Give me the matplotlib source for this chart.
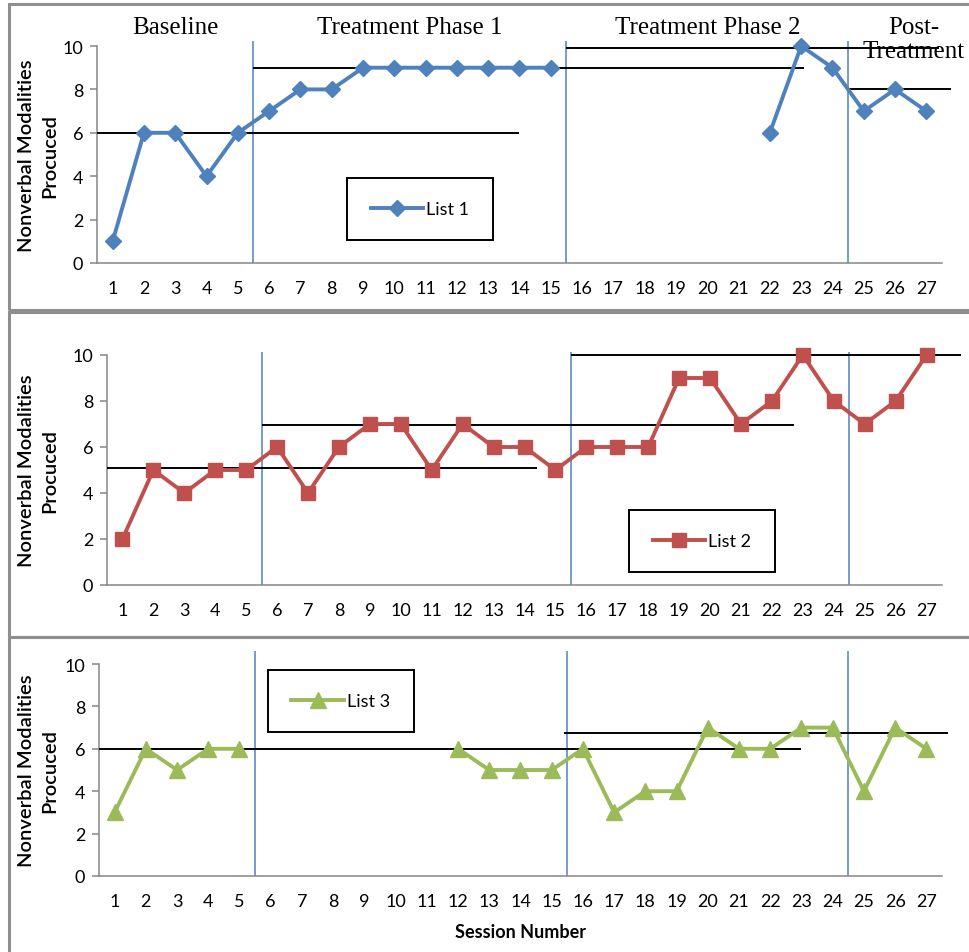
import numpy as np
import matplotlib
matplotlib.use("Agg")
import matplotlib.pyplot as plt
import matplotlib.transforms as mtransforms
from matplotlib.patches import Rectangle

# ---------- data ----------
sessions = np.arange(1, 28)
nan = np.nan

list1 = [1, 6, 6, 4, 6, 7, 8, 8, 9, 9, 9, 9, 9, 9, 9,
         nan, nan, nan, nan, nan, nan, 6, 10, 9, 7, 8, 7]
list2 = [2, 5, 4, 5, 5, 6, 4, 6, 7, 7, 5, 7, 6, 6, 5,
         6, 6, 6, 9, 9, 7, 8, 10, 8, 7, 8, 10]
list3 = [3, 6, 5, 6, 6, nan, nan, nan, nan, nan, nan, 6, 5, 5, 5,
         6, 3, 4, 4, 7, 6, 6, 7, 7, 4, 7, 6]

# phase boundaries (between sessions)
phase_bounds = [5.5, 15.5, 24.5]
phase_names = ["Baseline", "Treatment Phase 1", "Treatment Phase 2", "Post-\nTreatment"]
phase_label_x = [3, 10.5, 20, 26.6]

# mean lines: (start, end, level)
means1 = [(0.5, 14.0, 6), (5.5, 23.1, 9), (15.5, 27.4, 9.9), (24.5, 27.8, 8)]
means2 = [(0.5, 14.4, 5.1), (5.5, 22.7, 6.95), (15.5, 28.1, 10)]
means3 = [(0.5, 23.0, 6), (15.4, 27.7, 6.75)]

# ---------- style ----------
W, H = 970, 953
BLUE = "#4F81BD"
RED = "#C0504D"
GREEN = "#9BBB59"
AXGRAY = "#868686"
BORDER = "#8E8E8E"
TICKFONT = "Lato"

fig = plt.figure(figsize=(W / 100, H / 100), dpi=100)


def px_axes(left, right, top, bottom):
    return fig.add_axes([left / W, 1 - bottom / H, (right - left) / W, (bottom - top) / H])


# panel borders
for (y0, y1) in [(5, 311), (313, 638), (638, 960)]:
    fig.add_artist(Rectangle((9 / W, 1 - y1 / H), 1.2, (y1 - y0) / H,
                             transform=fig.transFigure, fill=False,
                             edgecolor=BORDER, lw=2.2, clip_on=False))

panels = [
    dict(box=(97, 942, 47, 264), data=list1, color=BLUE, marker="D", ms=8.5,
         label="List 1", means=means1, vtop=10.23, leg=(420, 210)),
    dict(box=(107, 942, 356, 586), data=list2, color=RED, marker="s", ms=10.5,
         label="List 2", means=means2, vtop=10.13, leg=(702, 542)),
    dict(box=(99, 942, 665, 877), data=list3, color=GREEN, marker="^", ms=12,
         label="List 3", means=means3, vtop=10.6, leg=(341, 702)),
]

axes = []
for p in panels:
    ax = px_axes(*p["box"])
    axes.append(ax)
    ax.set_xlim(0.5, 27.5)
    ax.set_ylim(0, 10)

    ax.vlines(phase_bounds, 0, p["vtop"], color=BLUE, lw=1.1, clip_on=False, zorder=2)
    for (x0, x1, lvl) in p["means"]:
        ax.hlines(lvl, x0, x1, color="black", lw=1.4, clip_on=False, zorder=3)

    ax.plot(sessions, p["data"], color=p["color"], lw=2.8, marker=p["marker"],
            ms=p["ms"], mec=p["color"], mfc=p["color"], label=p["label"],
            clip_on=False, zorder=4)

    for s in ["top", "right"]:
        ax.spines[s].set_visible(False)
    for s in ["left", "bottom"]:
        ax.spines[s].set_color(AXGRAY)
        ax.spines[s].set_linewidth(1.1)

    ax.set_xticks(sessions)
    ax.set_yticks([0, 2, 4, 6, 8, 10])
    ax.tick_params(axis="x", length=0, pad=12, labelsize=13)
    ax.tick_params(axis="y", length=5, width=1.1, color=AXGRAY, pad=5, labelsize=13)
    for lab in ax.get_xticklabels() + ax.get_yticklabels():
        lab.set_fontfamily(TICKFONT)

    ax.set_ylabel("Nonverbal Modalities\nProcuced", fontsize=14.5, family=TICKFONT,
                  linespacing=1.4, fontweight="semibold")
    ax.yaxis.label.set_va("center")
    tr = mtransforms.blended_transform_factory(fig.transFigure, ax.transAxes)
    ax.yaxis.set_label_coords(38 / W, 0.5, transform=tr)

    leg = ax.legend(loc="center", bbox_to_anchor=(p["leg"][0] / W, 1 - p["leg"][1] / H),
                    bbox_transform=fig.transFigure, fancybox=False, edgecolor="black",
                    framealpha=1, borderpad=1.3, handlelength=2.9, handletextpad=0.2,
                    prop={"family": TICKFONT, "size": 13})
    leg.get_frame().set_linewidth(1.4)

# phase titles on top panel
for name, xc in zip(phase_names, phase_label_x):
    yc = 10.33 if "\n" in name else 10.88
    axes[0].text(xc, yc, name, ha="center", va="center", fontsize=18,
                 family="Liberation Serif", linespacing=1.15, clip_on=False)

fig.text(521 / W, 1 - 933 / H, "Session Number", ha="center", va="center",
         fontsize=13, fontweight="bold", family=TICKFONT)

fig.savefig("out.png", dpi=100)
